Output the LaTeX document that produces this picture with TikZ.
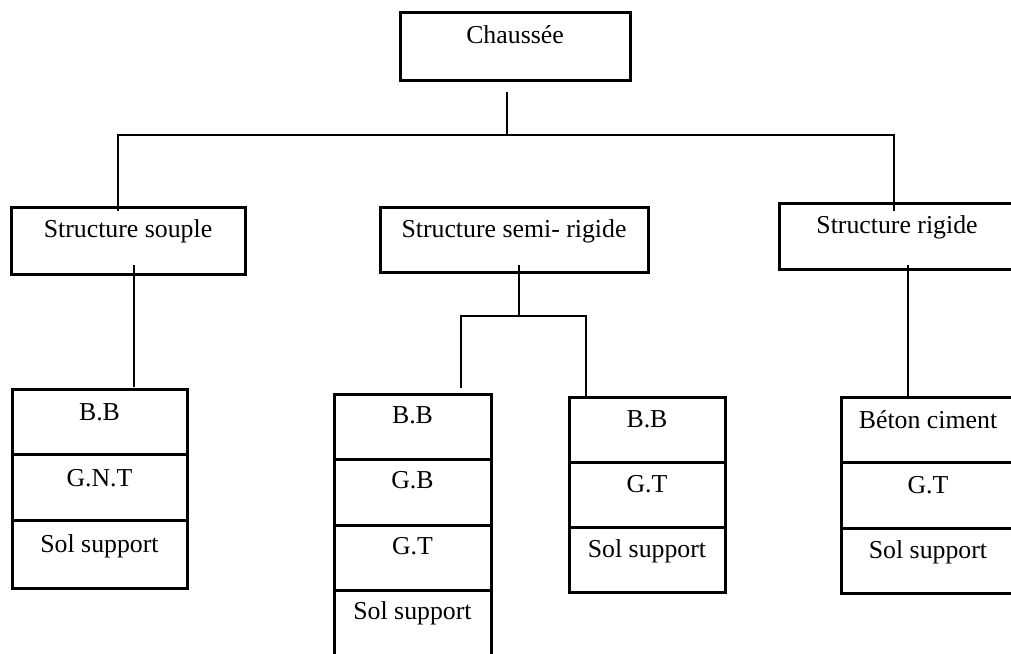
\documentclass[tikz,border=0pt]{standalone}
\usepackage{fontspec}
\setmainfont{Liberation Serif}
\tikzset{
  box/.style={draw, line width=3pt, rectangle, inner xsep=0pt, inner ysep=0pt,
    font=\fontsize{25.8}{30}\selectfont, anchor=base},
  conn/.style={line width=2.8pt},
  thinconn/.style={line width=1.7pt}
}
\begin{document}
\begin{tikzpicture}[x=1pt,y=-1pt]
\useasboundingbox (0,0) rectangle (1011,653);
\clip (0,0) rectangle (1011,653);
% top
\node[box, minimum width=230, text height=31, text depth=37] (ch) at (515,43) {Chaussée};
% level 2
\node[box, minimum width=234, text height=30, text depth=37] (souple) at (128,237) {Structure souple};
\node[box, minimum width=268, text height=30, text depth=35] (semi) at (514,237) {Structure semi- rigide};
\node[box, minimum width=236, text height=30, text depth=36] (rigide) at (897,233) {Structure rigide};
% souple stack
\node[box, minimum width=175, text height=31, text depth=34] (s1) at (99.5,420) {B.B};
\node[box, minimum width=175, text height=32, text depth=34] (s2) at (99.5,486) {G.N.T};
\node[box, minimum width=175, text height=32, text depth=36] (s3) at (99.5,552) {Sol support};
% semi-rigide stack 1
\node[box, minimum width=157, text height=29, text depth=36] (a1) at (412.5,423) {B.B};
\node[box, minimum width=157, text height=29, text depth=37] (a2) at (412.5,488) {G.B};
\node[box, minimum width=157, text height=29, text depth=36] (a3) at (412.5,554) {G.T};
\node[box, minimum width=157, text height=29, text depth=60] (a4) at (412.5,619) {Sol support};
% semi-rigide stack 2
\node[box, minimum width=156, text height=30, text depth=35] (b1) at (647,427) {B.B};
\node[box, minimum width=156, text height=30, text depth=35] (b2) at (647,492) {G.T};
\node[box, minimum width=156, text height=30, text depth=35] (b3) at (647,557) {Sol support};
% rigide stack
\node[box, minimum width=174, text height=31, text depth=34] (r1) at (928,428) {Béton ciment};
\node[box, minimum width=174, text height=31, text depth=35] (r2) at (928,493) {G.T};
\node[box, minimum width=174, text height=30, text depth=35] (r3) at (928,558) {Sol support};
% connectors
\coordinate (c0) at (507,92);
\coordinate (j0) at (507,135);
\coordinate (t1) at (118,211);
\coordinate (t3) at (894,211);
\draw[conn] (c0) -- (j0);
\draw[conn] (t1) |- (j0) -| (t3);
\coordinate (sv0) at (134,265);
\coordinate (sv1) at (134,387);
\draw[thinconn] (sv0) -- (sv1);
\coordinate (m0) at (519,265);
\coordinate (m1) at (519,316);
\coordinate (ml) at (461,388);
\coordinate (mr) at (586,397);
\draw[conn] (m0) -- (m1);
\draw[conn] (ml) |- (m1);
\draw[line width=2.2pt] (m1) -| (mr);
\coordinate (rv0) at (908,265);
\coordinate (rv1) at (908,397);
\draw[thinconn] (rv0) -- (rv1);
\end{tikzpicture}
\end{document}
